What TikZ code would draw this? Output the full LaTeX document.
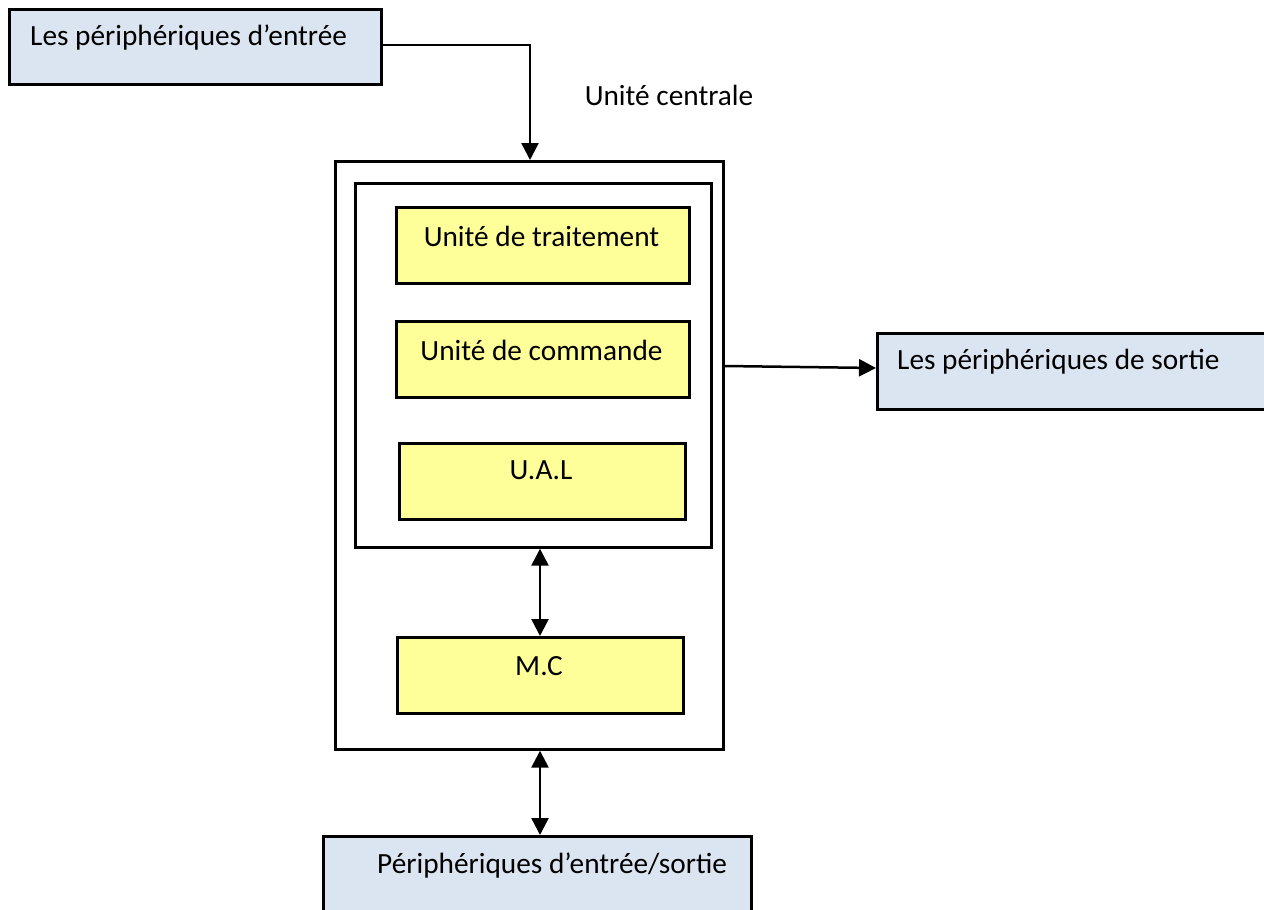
\documentclass[tikz,border=0pt]{standalone}
\usepackage{fontspec}
\setmainfont{Carlito}
\usetikzlibrary{arrows.meta}
\definecolor{periph}{HTML}{DBE5F1}
\definecolor{unit}{HTML}{FFFF99}
\begin{document}
\begin{tikzpicture}[x=1pt,y=-1pt,
  every node/.style={font=\fontsize{29.3}{34}\selectfont},
  frame/.style={draw, line width=2.7pt, inner sep=0pt, anchor=north west},
  periphbox/.style={frame, fill=periph},
  unitbox/.style={frame, fill=unit},
  lbl/.style={inner sep=0pt},
  tip/.style={Triangle[length=17pt,width=17pt]},
  conn/.style={line width=2.5pt, -{Triangle[length=17pt,width=17pt]}},
  dconn/.style={line width=2.5pt, {Triangle[length=17pt,width=17pt]}-{Triangle[length=17pt,width=17pt]}}]
\useasboundingbox (0,0) rectangle (1264,910);

% peripherals
\node[periphbox, minimum width=372pt, minimum height=75pt] (in) at (8,8) {};
\node[lbl, anchor=west] (intxt) at (30,38) {Les périphériques d’entrée};
\node[periphbox, minimum width=400pt, minimum height=76pt] (out) at (876,332) {};
\node[lbl, anchor=west] (outtxt) at (897,362) {Les périphériques de sortie};
\node[periphbox, minimum width=428pt, minimum height=90pt] (io) at (322,835) {};
\node[lbl, anchor=west] (iotxt) at (377,866) {Périphériques d’entrée/sortie};

% central unit
\node[lbl] (uctxt) at (669,95) {Unité centrale};
\node[frame, minimum width=388pt, minimum height=588pt] (uc) at (334,160) {};
\node[frame, minimum width=356pt, minimum height=364pt] (proc) at (354,182) {};
\node[unitbox, minimum width=293pt, minimum height=76pt] (ut) at (395,206) {};
\node[lbl] (uttxt) at (541.5,236) {Unité de traitement};
\node[unitbox, minimum width=293pt, minimum height=76pt] (ucmd) at (395,320) {};
\node[lbl] (ucmdtxt) at (541.5,350) {Unité de commande};
\node[unitbox, minimum width=286pt, minimum height=76pt] (ual) at (398,442) {};
\node[lbl] (ualtxt) at (541,470) {U.A.L};
\node[unitbox, minimum width=286pt, minimum height=76pt] (mc) at (396,636) {};
\node[lbl] (mctxt) at (539,666) {M.C};

% connectors
\coordinate (inexit) at (in.east |- 0,45);
\draw[conn] (inexit) -- (530,45) -- (530,0 |- uc.north);
\draw[conn] (uc.east |- 0,366) -- (out.west |- 0,368);
\draw[dconn] (540,0 |- proc.south) -- (540,0 |- mc.north);
\draw[dconn] (540,0 |- uc.south) -- (540,0 |- io.north);
\end{tikzpicture}
\end{document}
